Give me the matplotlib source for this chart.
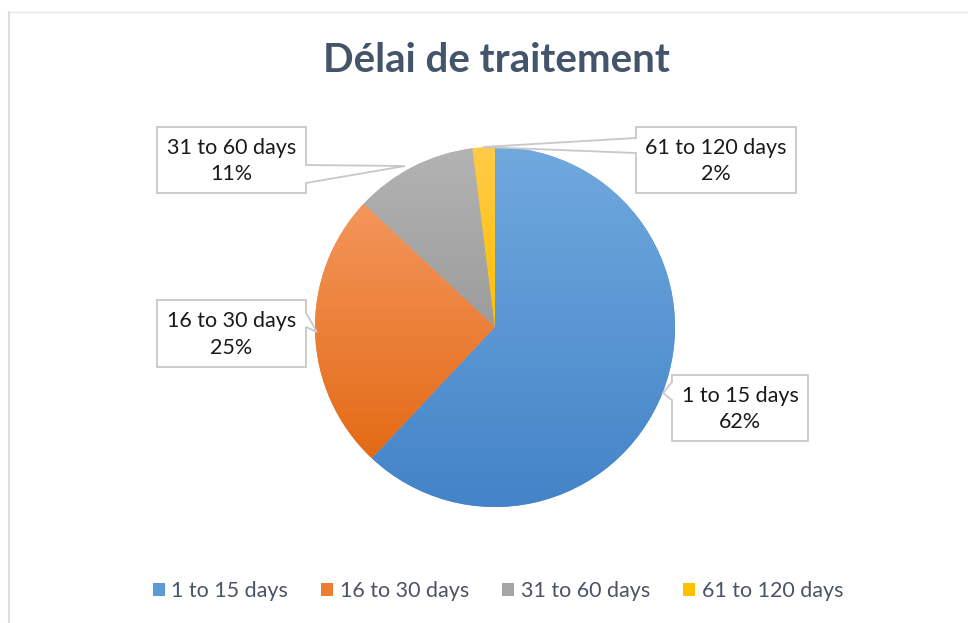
import numpy as np
import matplotlib
matplotlib.use("Agg")
import matplotlib.pyplot as plt
from matplotlib.colors import to_rgb
from matplotlib.patches import Polygon

# ---- data ----
categories = ["1 to 15 days", "16 to 30 days", "31 to 60 days", "61 to 120 days"]
values = [62, 25, 11, 2]
title = "Délai de traitement"

base_colors = ["#5B9BD5", "#ED7D31", "#A5A5A5", "#FFC000"]
top_colors = ["#70A9DE", "#F4965C", "#B3B3B3", "#FFCB48"]
bottom_colors = ["#4383C7", "#E36A15", "#9C9C9C", "#FFC000"]

W, H = 968, 623
plt.rcParams['font.family'] = ['Lato', 'DejaVu Sans']

fig = plt.figure(figsize=(W / 100, H / 100), dpi=100)
ax = fig.add_axes([0, 0, 1, 1])

def Y(y):
    return H - y

cx, cy, R = 495, 327, 180
wedges, _ = ax.pie(values, colors=base_colors, startangle=90, counterclock=False,
                   center=(cx, Y(cy)), radius=R, wedgeprops=dict(linewidth=0))

# gradient fill per wedge
for w, ct, cb in zip(wedges, top_colors, bottom_colors):
    v = w.get_path().vertices
    x0, x1 = v[:, 0].min(), v[:, 0].max()
    y0, y1 = v[:, 1].min(), v[:, 1].max()
    t = np.linspace(0, 1, 256)[:, None]
    c0, c1 = np.array(to_rgb(cb)), np.array(to_rgb(ct))
    grad = (c0[None, :] * (1 - t) + c1[None, :] * t)[:, None, :]
    im = ax.imshow(grad, extent=[x0, x1, y0, y1], origin='lower', aspect='auto',
                   interpolation='bilinear', zorder=2)
    im.set_clip_path(w)

ax.set_xlim(0, W)
ax.set_ylim(0, H)
ax.set_aspect('auto')
ax.axis('off')

# chart area border
ax.plot([8.5, W], [Y(12), Y(12)], color="#E6E6E6", lw=1, zorder=1)
ax.plot([8.5, 8.5], [Y(12), 0], color="#DCDCE4", lw=1.5, zorder=1)

# title
ax.text(496, Y(61), title, ha='center', va='center', fontsize=29, fontweight='bold',
        color="#44546A", zorder=5)

# callouts (pixel coords, y down)
def callout(box, side, base, tip, text):
    x0, x1, y0, y1 = box
    b0, b1 = base
    if side == 'right':
        pts = [(x0, y0), (x1, y0), (x1, b0), tip, (x1, b1), (x1, y1), (x0, y1)]
    else:
        pts = [(x0, y0), (x1, y0), (x1, y1), (x0, y1), (x0, b1), tip, (x0, b0)]
    pts = [(px, Y(py)) for px, py in pts]
    ax.add_patch(Polygon(pts, closed=True, facecolor='white', edgecolor='#C8C8CC',
                         lw=1.3, zorder=6))
    ax.text((x0 + x1) / 2, Y((y0 + y1) / 2 + 1), text, ha='center', va='center',
            fontsize=15.5, color='#1A1A1A', linespacing=1.4, zorder=7)

labels = [f"{c}\n{v}%" for c, v in zip(categories, values)]
callout((672, 808, 375, 441), 'left', (382, 400), (663, 393), labels[0])
callout((157, 306, 300, 367), 'right', (313, 327), (317, 332), labels[1])
callout((157, 306, 127, 193), 'right', (165, 183), (405, 166), labels[2])
callout((636, 796, 127, 193), 'left', (138, 153), (483, 147), labels[3])

# legend
leg = fig.legend(wedges, categories, loc='center', ncol=4, frameon=False,
                 bbox_to_anchor=(498 / W, 1 - 591 / H), fontsize=15.5,
                 handlelength=0.55, handleheight=0.55, handletextpad=0.3,
                 columnspacing=1.55)
for t in leg.get_texts():
    t.set_color("#4A5468")

fig.savefig("out.png", dpi=100)
